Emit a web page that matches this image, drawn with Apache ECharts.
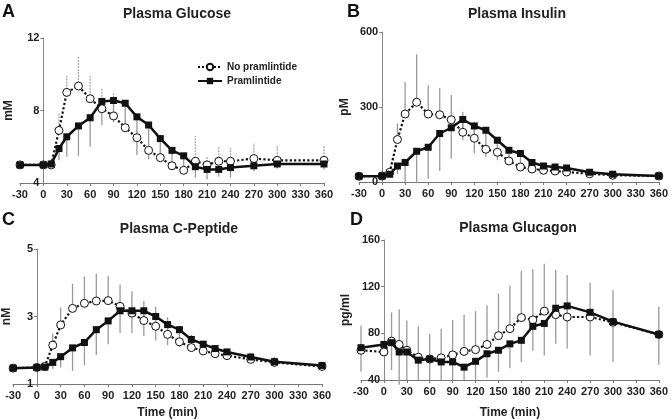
<!DOCTYPE html>
<html><head><meta charset="utf-8">
<script src="https://cdn.jsdelivr.net/npm/echarts@6/dist/echarts.min.js"></script>
<style>html,body{margin:0;padding:0;background:#fff}#c{width:671px;height:420px}</style>
</head><body><div id="c"></div>
<script>
const times = [-30,0,10,20,30,45,60,75,90,105,120,135,150,165,180,195,210,225,240,270,300,360];
const seriesNames = ['No pramlintide','Pramlintide'];
const panelTitles = ['Plasma Glucose','Plasma Insulin','Plasma C-Peptide','Plasma Glucagon'];
const panelLetters = ['A','B','C','D'];
const yUnits = ['mM','pM','nM','pg/ml'];
const xLabel = 'Time (min)';

// A: glucose (mM)
const glucoseNoPram = [5.0,5.0,5.0,6.9,9.0,9.35,8.65,8.1,7.7,7.05,6.5,5.8,5.4,4.95,4.7,5.2,5.0,5.2,5.2,5.35,5.25,5.25];
const glucosePram   = [5.0,5.0,5.05,5.9,6.55,7.15,7.6,8.5,8.55,8.4,7.65,7.2,6.45,5.8,5.5,4.9,4.75,4.75,4.85,4.95,5.05,5.05];
const glucoseNoPramTop = [null,null,null,7.85,9.9,11.0,9.9,9.25,8.95,7.5,6.9,6.2,5.8,5.2,5.0,6.6,5.5,6.0,5.95,6.2,6.1,6.1];
const glucosePramBottom = [null,null,4.85,5.25,5.45,5.5,6.0,7.2,7.35,6.85,5.55,5.3,5.3,5.0,4.75,4.3,4.2,4.35,4.3,4.65,4.8,4.75];

// B: insulin (pM)
const insulinNoPram = [23,24,39,170,272,319,272,269,249,199,175,131,119,84,60,52,47,44,40,33,27,24];
const insulinPram   = [23,24,31,64,78,123,139,194,217,250,224,207,167,127,114,78,64,60,56,39,31,24];
const insulinNoPramTop = [null,null,null,234,400,511,387,376,348,281,241,null,null,null,null,null,null,null,null,null,null,null];
const insulinPramBottom = [null,null,20,31,0,-5,13,44,94,167,114,100,87,74,54,62,50,45,40,28,20,16];

// C: C-peptide (nM)
const cpepNoPram = [1.47,1.49,1.52,2.15,2.75,3.24,3.39,3.46,3.47,3.3,3.1,2.88,2.71,2.47,2.25,2.08,1.98,1.9,1.84,1.73,1.64,1.52];
const cpepPram   = [1.47,1.49,1.5,1.64,1.81,2.07,2.23,2.61,2.87,3.17,3.17,3.17,3.0,2.76,2.61,2.32,2.18,2.05,1.95,1.8,1.66,1.55];
const cpepNoPramTop = [null,null,null,2.5,3.27,3.97,4.19,4.27,4.21,3.95,3.75,3.46,3.29,2.98,2.73,2.45,2.25,2.15,2.05,1.92,1.8,1.65];
const cpepPramBottom = [null,null,null,1.45,1.49,1.39,1.55,1.86,2.18,2.51,2.51,2.42,2.29,2.15,2.1,2.0,1.85,1.8,1.75,1.62,1.52,1.42];

// D: glucagon (pg/ml)
const glucagonNoPram = [65.5,64,73.3,70.5,65.5,59.5,58,59,61.5,64.5,66,70.5,78,84,93.5,91.5,99,96,94,94,89.5,79];
const glucagonPram   = [67.7,70.5,72,64,64,57,58,55.5,55.5,51,56,62.5,65.5,71,74,86,88.5,101.5,103.5,98,90,79];
const glucagonNoPramTop = [86.6,null,98,100.7,91,86,79.5,84,91.4,96,99,104,114,121,133.5,135,139.7,134.6,130,123.3,117,102.7];
const glucagonPramBottom = [47,null,48.5,36,40,40,40,40,40,40,40,42,47,50,55.5,65,61,71,67,61,55.5,53];

// axis ranges
const xRange = {min:-30, max:360, interval:30};
const yRanges = [
  {min:4, max:12, ticks:[4,8,12]},
  {min:0, max:600, ticks:[0,300,600]},
  {min:1, max:5, ticks:[1,3,5]},
  {min:40, max:160, ticks:[40,80,120,160]}
];

const panels = [
  {noPram:glucoseNoPram, pram:glucosePram, top:glucoseNoPramTop, bottom:glucosePramBottom, dashedTop:true},
  {noPram:insulinNoPram, pram:insulinPram, top:insulinNoPramTop, bottom:insulinPramBottom},
  {noPram:cpepNoPram, pram:cpepPram, top:cpepNoPramTop, bottom:cpepPramBottom},
  {noPram:glucagonNoPram, pram:glucagonPram, top:glucagonNoPramTop, bottom:glucagonPramBottom}
];

const FONT = '"Liberation Sans", Arial, sans-serif';
const grids = [
  {left:20, top:38, width:304, height:145},
  {left:359, top:32, width:302, height:150},
  {left:12, top:249, width:310, height:137},
  {left:361, top:240, width:302, height:142}
];
const yNameGaps = [29, 32, 24, 33];

const chart = echarts.init(document.getElementById('c'), null, {renderer:'canvas'});

const xAxes = grids.map((g,i)=>({
  type:'value', gridIndex:i, min:xRange.min, max:xRange.max, interval:xRange.interval,
  axisLine:{onZero:false, lineStyle:{color:'#777', width:1}},
  axisTick:{show:true, length:3, lineStyle:{color:'#777'}},
  axisLabel:{color:'#222', fontSize:11, fontWeight:'bold', fontFamily:FONT, margin:6, showMinLabel:true, showMaxLabel:true},
  splitLine:{show:false},
  name: i>=2 ? xLabel : '', nameLocation:'middle', nameGap: i===2 ? 23 : 27,
  nameTextStyle:{color:'#222', fontSize:12, fontWeight:'bold', fontFamily:FONT}
}));
// the vertical axis sits at time 0: shift it inward from the grid's left edge
const yAxes = grids.map((g,i)=>({
  type:'value', gridIndex:i, min:yRanges[i].min, max:yRanges[i].max,
  offset: -g.width * (0 - xRange.min) / (xRange.max - xRange.min),
  axisLine:{show:true, onZero:false, lineStyle:{color:'#888', width:1}},
  axisTick:{show:true, length:3, customValues:yRanges[i].ticks, lineStyle:{color:'#777'}},
  axisLabel:{customValues:yRanges[i].ticks, color:'#222', fontSize:11, fontWeight:'bold', fontFamily:FONT, margin:4},
  splitLine:{show:false},
  name: yUnits[i], nameLocation:'middle', nameGap: yNameGaps[i], nameRotate:90,
  nameTextStyle:{color:'#222', fontSize:12, fontWeight:'bold', fontFamily:FONT}
}));

function errSeries(idx, vals, ends, dashed){
  const data = [];
  times.forEach((t,k)=>{ if(ends[k]!=null) data.push([t, vals[k], ends[k]]); });
  return {
    type:'custom', xAxisIndex:idx, yAxisIndex:idx, silent:true, z:1, clip:false,
    data,
    encode:{x:0, y:[1,2]},
    renderItem:(params, api)=>{
      const p1 = api.coord([api.value(0), api.value(1)]);
      const p2 = api.coord([api.value(0), api.value(2)]);
      return {type:'line', shape:{x1:p1[0], y1:p1[1], x2:p2[0], y2:p2[1]},
        style:{stroke: dashed ? '#a8a8a8' : '#9a9a9a', lineWidth: 1.3, lineDash: dashed ? [2,1] : null}};
    }
  };
}

const series = [];
panels.forEach((p,i)=>{
  series.push(errSeries(i, p.noPram, p.top, !!p.dashedTop));
  series.push(errSeries(i, p.pram, p.bottom, false));
  series.push({
    name:seriesNames[0], type:'line', xAxisIndex:i, yAxisIndex:i, z:3,
    data: times.map((t,k)=>[t, p.noPram[k]]),
    symbol:'circle', symbolSize:8,
    itemStyle:{color:'#fff', borderColor:'#111', borderWidth:1},
    lineStyle:{color:'#111', width:2.2, type:'dotted'},
    emphasis:{disabled:true}, animation:false
  });
  series.push({
    name:seriesNames[1], type:'line', xAxisIndex:i, yAxisIndex:i, z:4,
    data: times.map((t,k)=>[t, p.pram[k]]),
    symbol:'rect', symbolSize:7,
    itemStyle:{color:'#111'},
    lineStyle:{color:'#111', width:2.5},
    emphasis:{disabled:true}, animation:false
  });
});

const titleCenters = [[177,7],[517,7],[179,222],[518,221]];
const letterPos = [[2,3],[347,3],[2,211],[350,211]];
const titles = [];
panelTitles.forEach((t,i)=>titles.push({text:t, left:titleCenters[i][0], top:titleCenters[i][1], textAlign:'center', padding:0,
  textStyle:{fontSize:14, fontWeight:'bold', color:'#222', fontFamily:FONT}}));
panelLetters.forEach((t,i)=>titles.push({text:t, left:letterPos[i][0], top:letterPos[i][1], padding:0,
  textStyle:{fontSize:18, fontWeight:'bold', color:'#111', fontFamily:FONT}}));

chart.setOption({
  animation:false,
  backgroundColor:'#fff',
  title: titles,
  legend:{data:seriesNames, left:197, top:62, orient:'vertical', itemWidth:24, itemHeight:8, itemGap:4, padding:0,
    textStyle:{fontSize:10, fontWeight:'bold', color:'#222', fontFamily:FONT}},
  grid: grids,
  xAxis: xAxes,
  yAxis: yAxes,
  series
});
</script>
</body></html>
